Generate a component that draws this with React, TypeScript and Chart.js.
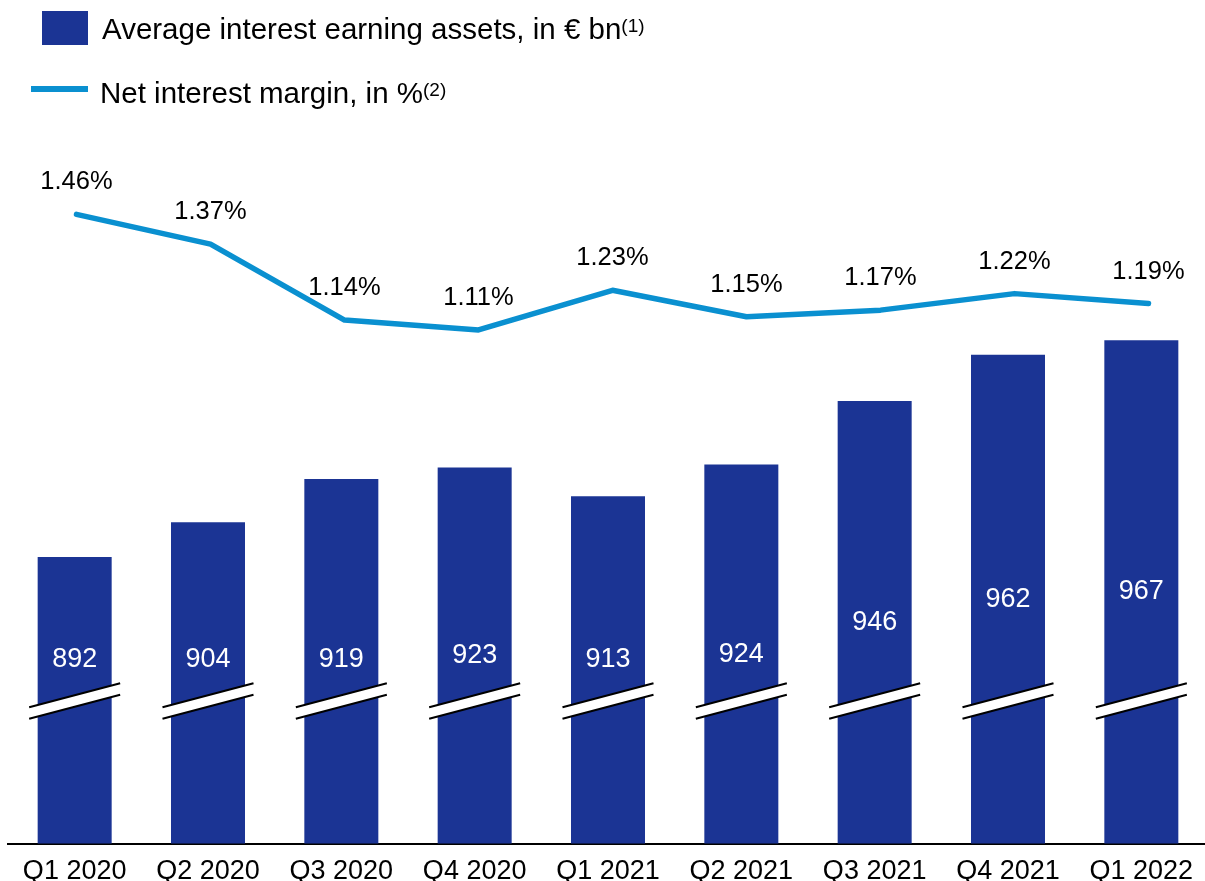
import React, { useEffect, useRef } from "react";
import { Chart, registerables } from "chart.js";

Chart.register(...registerables);

const categories = ["Q1 2020", "Q2 2020", "Q3 2020", "Q4 2020", "Q1 2021", "Q2 2021", "Q3 2021", "Q4 2021", "Q1 2022"];
const assets = [892, 904, 919, 923, 913, 924, 946, 962, 967];
const margin = [1.46, 1.37, 1.14, 1.11, 1.23, 1.15, 1.17, 1.22, 1.19];
const assetLabels = assets.map((v) => String(v));
const marginLabels = margin.map((v) => v.toFixed(2) + "%");

const BAR = "#1b3494";
const LINE = "#0a90d0";
const FONT = '"Liberation Sans", Arial, sans-serif';

const overlayPlugin = {
  id: "overlay",
  afterDatasetsDraw(chart: any) {
    const ctx = chart.ctx;
    const area = chart.chartArea;
    const barMeta = chart.getDatasetMeta(1);
    const lineMeta = chart.getDatasetMeta(0);
    const cyMark = area.bottom - 142.6;
    const basePx = area.bottom;
    ctx.save();
    barMeta.data.forEach((el: any, i: number) => {
      const cx = el.x;
      const hw = 45.5;
      const rise = 12;
      const gap = 5.75;
      ctx.beginPath();
      ctx.moveTo(cx - hw, cyMark - gap + rise);
      ctx.lineTo(cx + hw, cyMark - gap - rise);
      ctx.lineTo(cx + hw, cyMark + gap - rise);
      ctx.lineTo(cx - hw, cyMark + gap + rise);
      ctx.closePath();
      ctx.fillStyle = "#ffffff";
      ctx.fill();
      ctx.strokeStyle = "#000000";
      ctx.lineWidth = 2;
      ctx.beginPath();
      ctx.moveTo(cx - hw, cyMark - gap + rise);
      ctx.lineTo(cx + hw, cyMark - gap - rise);
      ctx.moveTo(cx - hw, cyMark + gap + rise);
      ctx.lineTo(cx + hw, cyMark + gap - rise);
      ctx.stroke();
      const topPx = chart.scales.y.getPixelForValue(assets[i]);
      const ly = Math.min((topPx + basePx) / 2, cyMark - 41.5);
      ctx.fillStyle = "#ffffff";
      ctx.font = "27px " + FONT;
      ctx.textAlign = "center";
      ctx.textBaseline = "middle";
      ctx.fillText(assetLabels[i], cx, ly);
    });
    lineMeta.data.forEach((pt: any, i: number) => {
      ctx.fillStyle = "#000000";
      ctx.font = "25.5px " + FONT;
      ctx.textAlign = "center";
      ctx.textBaseline = "middle";
      ctx.fillText(marginLabels[i], pt.x, pt.y - 32);
    });
    ctx.restore();
  },
};

export default function App() {
  const ref = useRef<HTMLCanvasElement | null>(null);

  useEffect(() => {
    document.body.style.margin = "0";
    const canvas = ref.current;
    if (!canvas) return;
    const chart = new Chart(canvas, {
      type: "bar",
      data: {
        labels: categories,
        datasets: [
          {
            type: "line",
            label: "Net interest margin, in %",
            data: margin.map((v, i) => ({ x: i, y: v })) as any,
            xAxisID: "x2",
            yAxisID: "y2",
            borderColor: LINE,
            backgroundColor: LINE,
            borderWidth: 5.5,
            borderCapStyle: "round",
            borderJoinStyle: "round",
            pointRadius: 0,
            tension: 0,
          } as any,
          {
            type: "bar",
            label: "Average interest earning assets, in € bn",
            data: assets,
            xAxisID: "x",
            yAxisID: "y",
            backgroundColor: BAR,
            borderWidth: 0,
            grouped: false,
            barPercentage: 0.555,
            categoryPercentage: 1,
          } as any,
        ],
      },
      options: {
        responsive: false,
        animation: false,
        devicePixelRatio: 1,
        layout: { padding: { left: 8, right: 0, top: 130, bottom: 0 } },
        plugins: {
          legend: { display: false },
          tooltip: { enabled: false },
        },
        scales: {
          x: {
            type: "category",
            offset: true,
            grid: { display: false, drawTicks: false },
            border: { display: true, color: "#000000", width: 2 },
            ticks: {
              color: "#000000",
              padding: 11.5,
              font: { family: FONT, size: 27, lineHeight: 1.2 },
              maxRotation: 0,
              autoSkip: false,
            },
          },
          x2: {
            type: "linear",
            display: false,
            offset: false,
            grid: { offset: false },
            min: -0.5112,
            max: 8.444,
          },
          y: {
            type: "linear",
            display: false,
            min: 792.9,
            max: 1039.7,
          },
          y2: {
            type: "linear",
            display: false,
            min: -0.4455,
            max: 1.7155,
          },
        },
      } as any,
      plugins: [overlayPlugin],
    });
    return () => chart.destroy();
  }, []);

  const textBase: React.CSSProperties = {
    position: "absolute",
    fontFamily: FONT,
    fontSize: "29.5px",
    lineHeight: "29.5px",
    whiteSpace: "nowrap",
    color: "#000000",
  };
  const sup: React.CSSProperties = { fontSize: "19px", position: "relative", top: "-7px" };

  return (
    <div style={{ position: "relative", width: 1205, height: 881, overflow: "hidden", background: "#ffffff" }}>
      <canvas ref={ref} width={1208} height={899} style={{ position: "absolute", left: 0, top: 0, display: "block" }} />
      <div style={{ position: "absolute", left: 42, top: 11, width: 46, height: 34, background: BAR }} />
      <div style={{ ...textBase, left: 102, top: 14 }}>
        Average interest earning assets, in € bn<span style={sup}>(1)</span>
      </div>
      <div style={{ position: "absolute", left: 31, top: 86, width: 57, height: 6, background: LINE }} />
      <div style={{ ...textBase, left: 100, top: 78 }}>
        Net interest margin, in %<span style={sup}>(2)</span>
      </div>
    </div>
  );
}
